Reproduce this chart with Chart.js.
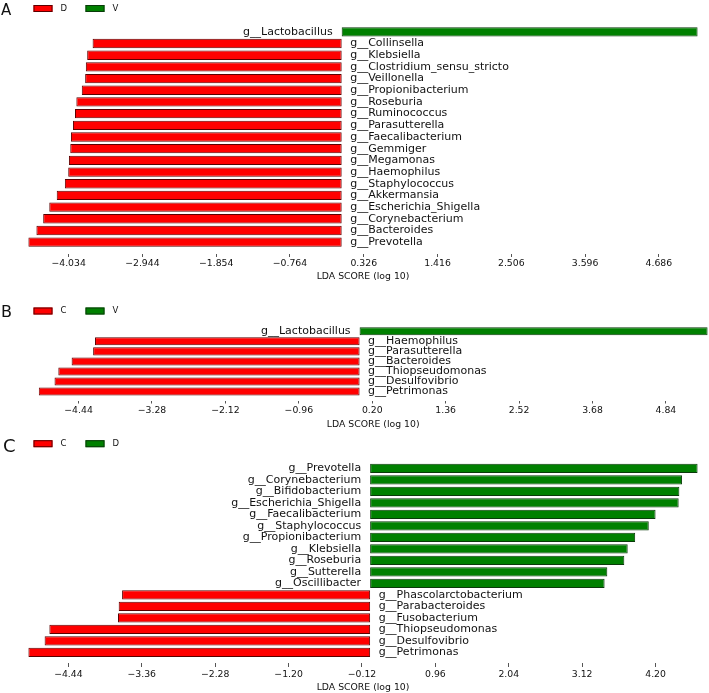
<!DOCTYPE html>
<html>
<head>
<meta charset="utf-8">
<script src="https://cdn.jsdelivr.net/npm/chart.js@4.4.1/dist/chart.umd.min.js"></script>
<style>
  body { margin: 0; background: #fff; width: 709px; height: 693px; overflow: hidden; position: relative; }
  .panel { position: absolute; left: 0; width: 709px; }
</style>
</head>
<body>
<div class="panel" style="top:0;height:285px"><canvas id="chartA"></canvas></div>
<div class="panel" style="top:285px;height:145px"><canvas id="chartB"></canvas></div>
<div class="panel" style="top:430px;height:263px"><canvas id="chartC"></canvas></div>
<script>
// panel A: D vs V
const taxaA = ['g__Lactobacillus', 'g__Collinsella', 'g__Klebsiella', 'g__Clostridium_sensu_stricto',
  'g__Veillonella', 'g__Propionibacterium', 'g__Roseburia', 'g__Ruminococcus', 'g__Parasutterella',
  'g__Faecalibacterium', 'g__Gemmiger', 'g__Megamonas', 'g__Haemophilus', 'g__Staphylococcus',
  'g__Akkermansia', 'g__Escherichia_Shigella', 'g__Corynebacterium', 'g__Bacteroides', 'g__Prevotella'];
const ldaA = [5.26, -3.68, -3.76, -3.78, -3.79, -3.84, -3.92, -3.94, -3.97, -4.00,
  -4.01, -4.03, -4.04, -4.09, -4.21, -4.32, -4.41, -4.51, -4.63];
const groupsA = ['D', 'V'];
const ticksA = [-4.034, -2.944, -1.854, -0.764, 0.326, 1.416, 2.506, 3.596, 4.686];

// panel B: C vs V
const taxaB = ['g__Lactobacillus', 'g__Haemophilus', 'g__Parasutterella', 'g__Bacteroides',
  'g__Thiopseudomonas', 'g__Desulfovibrio', 'g__Petrimonas'];
const ldaB = [5.50, -4.18, -4.21, -4.55, -4.76, -4.82, -5.07];
const groupsB = ['C', 'V'];
const ticksB = [-4.44, -3.28, -2.12, -0.96, 0.20, 1.36, 2.52, 3.68, 4.84];

// panel C: C vs D
const taxaC = ['g__Prevotella', 'g__Corynebacterium', 'g__Bifidobacterium', 'g__Escherichia_Shigella',
  'g__Faecalibacterium', 'g__Staphylococcus', 'g__Propionibacterium', 'g__Klebsiella', 'g__Roseburia',
  'g__Sutterella', 'g__Oscillibacter', 'g__Phascolarctobacterium', 'g__Parabacteroides',
  'g__Fusobacterium', 'g__Thiopseudomonas', 'g__Desulfovibrio', 'g__Petrimonas'];
const ldaC = [4.82, 4.59, 4.55, 4.54, 4.20, 4.10, 3.90, 3.79, 3.74, 3.49, 3.45,
  -3.65, -3.70, -3.71, -4.72, -4.79, -5.03];
const groupsC = ['C', 'D'];
const ticksC = [-4.44, -3.36, -2.28, -1.20, -0.12, 0.96, 2.04, 3.12, 4.20];

const FILL = ['#ff0000', '#008000'];
const EDGE = ['#5a0000', '#0a3a0a'];
const FONT = '"DejaVu Sans", sans-serif';

function fmt(v, dec) {
    return v.toFixed(dec).replace('-', '\u2212');
}

function makeChart(id, letter, taxa, lda, groups, ticks, dec, L) {
    const lefse = {
        id: 'lefse',
        afterDatasetsDraw(chart) {
            const { ctx, scales: { x, y } } = chart;
            const zero = x.getPixelForValue(0);
            ctx.save();
            ctx.font = '11px ' + FONT;
            ctx.fillStyle = '#111';
            ctx.textBaseline = 'middle';
            taxa.forEach((t, i) => {
                const py = y.getPixelForValue(i);
                if (lda[i] < 0) {
                    ctx.textAlign = 'left';
                    ctx.fillText(t, zero + 8.5, py);
                } else {
                    ctx.textAlign = 'right';
                    ctx.fillText(t, zero - 9, py);
                }
            });

            // panel letter + legend
            ctx.textAlign = 'left';
            ctx.textBaseline = 'alphabetic';
            ctx.font = L.letterSize + 'px ' + FONT;
            ctx.fillText(letter, L.letterX, L.letterY);
            ctx.font = '8.5px ' + FONT;
            ctx.textBaseline = 'middle';
            chart.data.datasets.forEach((ds, k) => {
                const bx = [33.5, 85.5][k];
                ctx.fillStyle = ds.backgroundColor;
                ctx.fillRect(bx, L.legY - 3.5, 19, 7);
                ctx.strokeStyle = ds.borderColor;
                ctx.lineWidth = 1;
                ctx.strokeRect(bx + 0.5, L.legY - 3, 18, 6);
                ctx.fillStyle = '#111';
                ctx.fillText(ds.label, bx + 27, L.legY);
            });
            ctx.restore();
        }
    };

    return new Chart(document.getElementById(id), {
        type: 'bar',
        data: {
            labels: taxa,
            datasets: groups.map((g, k) => ({
                label: g,
                data: lda.map(v => (k === 0 ? (v < 0 ? v : null) : (v > 0 ? v : null))),
                backgroundColor: FILL[k],
                borderColor: EDGE[k],
                borderWidth: 1,
                borderSkipped: false,
                grouped: false,
                barPercentage: 0.8,
                categoryPercentage: 1
            }))
        },
        options: {
            indexAxis: 'y',
            responsive: true,
            maintainAspectRatio: false,
            animation: false,
            devicePixelRatio: 1,
            layout: { padding: { top: L.top, left: L.left, right: L.right, bottom: 0 } },
            plugins: { legend: { display: false }, tooltip: { enabled: false } },
            scales: {
                y: { display: false },
                x: {
                    type: 'linear',
                    min: Math.min(...lda),
                    max: Math.max(...lda),
                    border: { display: false },
                    grid: {
                        drawOnChartArea: false,
                        color: '#555',
                        tickLength: L.tickStart + L.tickLen,
                        tickBorderDash: [L.tickLen, 100],
                        tickBorderDashOffset: -L.tickStart
                    },
                    afterBuildTicks: s => { s.ticks = ticks.map(v => ({ value: v })); },
                    afterFit: s => { s.height = L.axisH; },
                    ticks: {
                        autoSkip: false,
                        maxRotation: 0,
                        padding: L.labelPad,
                        color: '#111',
                        font: { family: FONT, size: 9.3 },
                        callback: v => fmt(v, dec)
                    },
                    title: {
                        display: true,
                        text: 'LDA SCORE (log 10)',
                        color: '#111',
                        font: { family: FONT, size: 9.3 },
                        padding: { top: 0, bottom: L.titlePad }
                    }
                }
            }
        },
        plugins: [lefse]
    });
}

makeChart('chartA', 'A', taxaA, ldaA, groupsA, ticksA, 3,
    { top: 26, left: 28.3, right: 11.3, axisH: 37, tickStart: 6, tickLen: 3, labelPad: 1, titlePad: 3,
      letterSize: 15, letterX: 1, letterY: 15, legY: 8.5 });
makeChart('chartB', 'B', taxaB, ldaB, groupsB, ticksB, 2,
    { top: 41.3, left: 38.7, right: 1.3, axisH: 33.5, tickStart: 4, tickLen: 3, labelPad: 1.2, titlePad: 0,
      letterSize: 16, letterX: 1, letterY: 32, legY: 26 });
makeChart('chartC', 'C', taxaC, ldaC, groupsC, ticksC, 2,
    { top: 32.6, left: 28.3, right: 11.3, axisH: 34.8, tickStart: 5, tickLen: 4, labelPad: 1.8, titlePad: 0.3,
      letterSize: 18, letterX: 3, letterY: 22, legY: 13.7 });
</script>
</body>
</html>
